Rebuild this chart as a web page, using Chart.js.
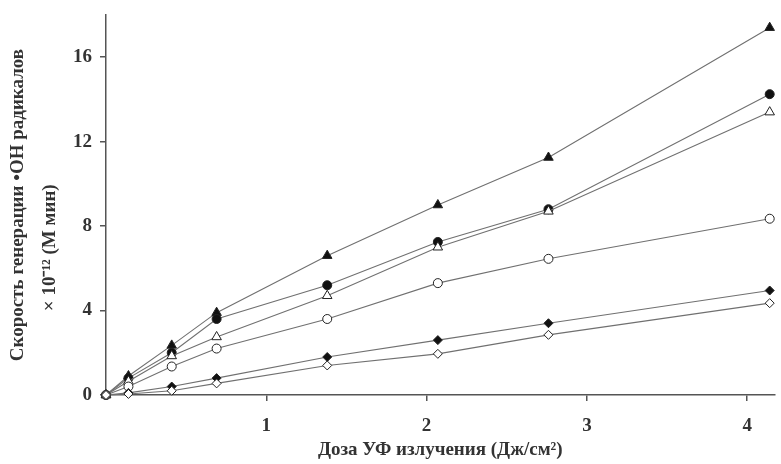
<!DOCTYPE html>
<html>
<head>
<meta charset="utf-8">
<script src="https://cdn.jsdelivr.net/npm/chart.js@4/dist/chart.umd.min.js"></script>
<style>
  html, body { margin: 0; padding: 0; background: #fff; }
  #wrap { width: 781px; height: 464px; }
</style>
</head>
<body>
<div id="wrap"><canvas id="chart" width="781" height="464"></canvas></div>
<script>
// доза УФ, Дж/см2
const dose = [0, 0.14, 0.41, 0.69, 1.38, 2.07, 2.76, 4.14];

// скорость генерации OH радикалов, x10^-12 М/мин
const filledTriangle = [0, 0.9, 2.35, 3.9, 6.6, 9.0, 11.25, 17.4];
const filledCircle   = [0, 0.8, 2.0, 3.6, 5.2, 7.25, 8.8, 14.25];
const openTriangle   = [0, 0.65, 1.85, 2.75, 4.7, 7.0, 8.7, 13.4];
const openCircle     = [0, 0.4, 1.35, 2.2, 3.6, 5.3, 6.45, 8.35];
const filledDiamond  = [0, 0.1, 0.4, 0.8, 1.8, 2.6, 3.4, 4.95];
const openDiamond    = [0, 0.05, 0.2, 0.55, 1.4, 1.95, 2.85, 4.35];

const xTicks = [1, 2, 3, 4];
const yTicks = [0, 4, 8, 12, 16];

const TEXT = '#333';
const LINE = '#707070';
const FONT = 'Liberation Serif';

function series(values, style, fill, radius) {
  return {
    data: dose.map((x, i) => ({ x: x, y: values[i] })),
    showLine: true,
    borderColor: LINE,
    borderWidth: 1.1,
    pointStyle: style,
    pointRadius: radius,
    pointBackgroundColor: fill,
    pointBorderColor: '#222',
    pointBorderWidth: 1,
    clip: false
  };
}

// trailing spaces push the second line of the y title toward the axis origin, as in the original
const yTitle2 = '× 10⁻¹² (M мин)' + ' '.repeat(18);

new Chart(document.getElementById('chart'), {
  type: 'scatter',
  data: {
    datasets: [
      series(openDiamond, 'rectRot', '#fff', 4.5),
      series(filledDiamond, 'rectRot', '#111', 4.5),
      series(openCircle, 'circle', '#fff', 4.5),
      series(openTriangle, 'triangle', '#fff', 5.5),
      series(filledCircle, 'circle', '#111', 4.5),
      series(filledTriangle, 'triangle', '#111', 5.5)
    ]
  },
  options: {
    responsive: false,
    animation: false,
    layout: { padding: { top: 15, right: 0, left: 0, bottom: 0 } },
    plugins: { legend: { display: false }, tooltip: { enabled: false } },
    scales: {
      x: {
        type: 'linear',
        min: 0,
        max: 4.17,
        afterFit: s => { s.height = 69; s.paddingLeft = 0; s.paddingRight = 0; },
        afterBuildTicks: s => { s.ticks = xTicks.map(v => ({ value: v })); },
        border: { display: true, color: '#555', width: 1.5 },
        grid: { drawOnChartArea: false, drawTicks: true, tickLength: 6, color: '#555', lineWidth: 1.5 },
        ticks: { color: TEXT, font: { family: FONT, size: 19, weight: 'bold' }, padding: 14, maxRotation: 0 },
        title: {
          display: true,
          text: 'Доза УФ излучения (Дж/см²)',
          color: TEXT,
          font: { family: FONT, size: 19, weight: 'bold' },
          padding: { top: 0, bottom: 3 }
        }
      },
      y: {
        type: 'linear',
        min: 0,
        max: 18,
        afterFit: s => { s.width = 106; s.paddingTop = 0; s.paddingBottom = 0; },
        afterBuildTicks: s => { s.ticks = yTicks.map(v => ({ value: v })); },
        border: { display: true, color: '#555', width: 1.5 },
        grid: { drawOnChartArea: false, drawTicks: true, tickLength: 6, color: '#555', lineWidth: 1.5 },
        ticks: { color: TEXT, font: { family: FONT, size: 19, weight: 'bold' }, padding: 8 },
        title: {
          display: true,
          text: ['Скорость генерации •OH радикалов', yTitle2],
          color: TEXT,
          font: { family: FONT, size: 19, weight: 'bold', lineHeight: 1.7 },
          padding: { top: 2, bottom: 0 }
        }
      }
    }
  }
});
</script>
</body>
</html>
